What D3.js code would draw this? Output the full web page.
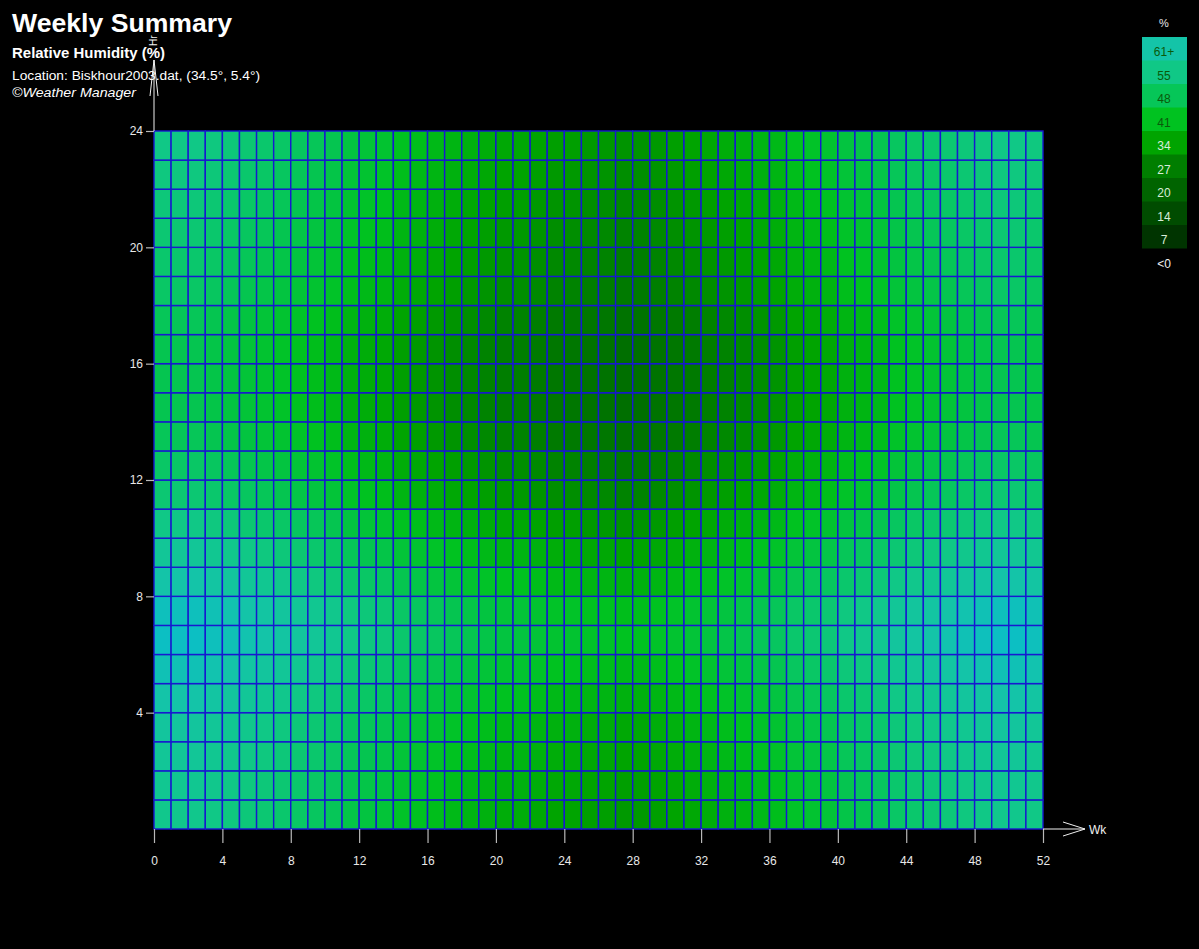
<!DOCTYPE html>
<html>
<head>
<meta charset="utf-8">
<script src="https://cdn.jsdelivr.net/npm/d3@7"></script>
<style>
  body { margin: 0; background: #000; }
  svg { display: block; }
  text { font-family: "Liberation Sans", Arial, sans-serif; }
</style>
</head>
<body>
<div class="chart"></div>
<script>
// weekly relative humidity (%), one row per hour (row 0 = 00h), 52 weeks each
var hourRows = [
  [56,56,56,55,54,53,52,51,50,49,48,46,45,44,42,41,40,39,38,37,36,36,35,34,34,33,33,32,32,33,34,35,36,37,38,39,40,42,43,44,46,47,48,50,51,52,53,54,55,56,56,55],
  [57,57,57,56,55,54,53,52,51,50,49,47,46,45,43,42,41,40,39,38,37,37,36,35,35,34,34,33,33,34,35,36,37,38,39,40,41,43,44,45,47,48,49,51,52,53,54,55,56,57,57,56],
  [58,58,58,57,56,55,54,53,52,51,50,48,47,46,44,43,42,41,40,39,38,38,37,36,36,35,35,34,34,35,36,37,38,39,40,41,42,44,45,46,48,49,50,52,53,54,55,56,57,58,58,57],
  [59,59,59,58,57,56,55,54,53,52,51,49,48,47,45,44,43,42,41,40,39,39,38,37,37,36,36,35,35,36,37,38,39,40,41,42,43,45,46,47,49,50,51,53,54,55,56,57,58,59,59,58],
  [61,61,61,60,59,58,57,56,55,54,53,51,50,49,47,46,45,44,43,42,41,41,40,39,39,38,38,37,37,38,39,40,41,42,43,44,45,47,48,49,51,52,53,55,56,57,58,59,60,61,61,60],
  [63,63,63,62,61,60,59,58,57,56,55,53,52,51,49,48,47,46,45,44,43,43,42,41,41,40,40,39,39,40,41,42,43,44,45,46,47,49,50,51,53,54,55,57,58,59,60,61,62,63,63,62],
  [65,65,65,64,63,62,61,60,59,58,57,55,54,53,51,50,49,48,47,46,45,45,44,43,43,42,42,41,41,42,43,44,45,46,47,48,49,51,52,53,55,56,57,59,60,61,62,63,64,65,65,64],
  [64,64,64,63,62,61,60,59,58,57,56,54,53,52,50,49,48,47,46,45,44,44,43,42,42,41,41,40,40,41,42,43,44,45,46,47,48,50,51,52,54,55,56,58,59,60,61,62,63,64,64,63],
  [61,61,61,60,59,58,57,56,55,54,53,51,50,49,47,46,45,44,43,42,41,41,40,39,39,38,38,37,37,38,39,40,41,42,43,44,45,47,48,49,51,52,53,55,56,57,58,59,60,61,61,60],
  [58,58,58,57,56,55,54,53,52,51,50,48,47,46,44,43,42,41,40,39,38,38,37,36,36,35,35,34,34,35,36,37,38,39,40,41,42,44,45,46,48,49,50,52,53,54,55,56,57,58,58,57],
  [55,55,55,54,53,52,51,50,49,48,47,45,44,43,41,40,39,38,37,36,35,35,34,33,33,32,32,31,31,32,33,34,35,36,37,38,39,41,42,43,45,46,47,49,50,51,52,53,54,55,55,54],
  [52,52,52,51,50,49,48,47,46,45,44,42,41,40,38,37,36,35,34,33,32,32,31,30,30,29,29,28,28,29,30,31,32,33,34,35,36,38,39,40,42,43,44,46,47,48,49,50,51,52,52,51],
  [50,50,50,49,48,47,46,45,44,43,42,40,39,38,36,35,34,33,32,31,30,30,29,28,28,27,27,26,26,27,28,29,30,31,32,33,34,36,37,38,40,41,42,44,45,46,47,48,49,50,50,49],
  [48,48,48,47,46,45,44,43,42,41,40,38,37,36,34,33,32,31,30,29,28,28,27,26,26,25,25,24,24,25,26,27,28,29,30,31,32,34,35,36,38,39,40,42,43,44,45,46,47,48,48,47],
  [47,47,47,46,45,44,43,42,41,40,39,37,36,35,33,32,31,30,29,28,27,27,26,25,25,24,24,23,23,24,25,26,27,28,29,30,31,33,34,35,37,38,39,41,42,43,44,45,46,47,47,46],
  [47,47,47,46,45,44,43,42,41,40,39,37,36,35,33,32,31,30,29,28,27,27,26,25,25,24,24,23,23,24,25,26,27,28,29,30,31,33,34,35,37,38,39,41,42,43,44,45,46,47,47,46],
  [47,47,47,46,45,44,43,42,41,40,39,37,36,35,33,32,31,30,29,28,27,27,26,25,25,24,24,23,23,24,25,26,27,28,29,30,31,33,34,35,37,38,39,41,42,43,44,45,46,47,47,46],
  [48,48,48,47,46,45,44,43,42,41,40,38,37,36,34,33,32,31,30,29,28,28,27,26,26,25,25,24,24,25,26,27,28,29,30,31,32,34,35,36,38,39,40,42,43,44,45,46,47,48,48,47],
  [50,50,50,49,48,47,46,45,44,43,42,40,39,38,36,35,34,33,32,31,30,30,29,28,28,27,27,26,26,27,28,29,30,31,32,33,34,36,37,38,40,41,42,44,45,46,47,48,49,50,50,49],
  [51,51,51,50,49,48,47,46,45,44,43,41,40,39,37,36,35,34,33,32,31,31,30,29,29,28,28,27,27,28,29,30,31,32,33,34,35,37,38,39,41,42,43,45,46,47,48,49,50,51,51,50],
  [52,52,52,51,50,49,48,47,46,45,44,42,41,40,38,37,36,35,34,33,32,32,31,30,30,29,29,28,28,29,30,31,32,33,34,35,36,38,39,40,42,43,44,46,47,48,49,50,51,52,52,51],
  [53,53,53,52,51,50,49,48,47,46,45,43,42,41,39,38,37,36,35,34,33,33,32,31,31,30,30,29,29,30,31,32,33,34,35,36,37,39,40,41,43,44,45,47,48,49,50,51,52,53,53,52],
  [54,54,54,53,52,51,50,49,48,47,46,44,43,42,40,39,38,37,36,35,34,34,33,32,32,31,31,30,30,31,32,33,34,35,36,37,38,40,41,42,44,45,46,48,49,50,51,52,53,54,54,53],
  [55,55,55,54,53,52,51,50,49,48,47,45,44,43,41,40,39,38,37,36,35,35,34,33,33,32,32,31,31,32,33,34,35,36,37,38,39,41,42,43,45,46,47,49,50,51,52,53,54,55,55,54]
];
var weekTicks = [0,4,8,12,16,20,24,28,32,36,40,44,48,52];
var hourTicks = [4,8,12,16,20,24];
var legendLabels = ['61+','55','48','41','34','27','20','14','7','<0'];
var legendValues = [61,55,48,41,34,27,20,14,7,-1];

var W = 1199, H = 949;
var svg = d3.select('.chart').append('svg').attr('width', W).attr('height', H);
svg.append('rect').attr('width', W).attr('height', H).attr('fill', '#000');

var x = d3.scaleLinear().domain([0, 52]).range([154, 1043]);
var y = d3.scaleLinear().domain([0, 24]).range([829, 131]);

var color = d3.scaleLinear()
  .domain([-1, 0, 7, 14, 20, 27, 34, 41, 48, 55, 61, 67])
  .range(['#000000','#002000','#003400','#004c00','#006400','#007e00','#00a400','#00c220','#06c658','#10c886','#14c4a8','#08bcd0'])
  .clamp(true);

// flatten rows into cells
var cells = [];
hourRows.forEach(function(row, h) {
  row.forEach(function(v, w) { cells.push({w: w, h: h, v: v}); });
});

svg.append('g').selectAll('rect')
  .data(cells)
  .enter().append('rect')
    .attr('x', function(d){ return x(d.w); })
    .attr('y', function(d){ return y(d.h + 1); })
    .attr('width', function(d){ return x(d.w + 1) - x(d.w); })
    .attr('height', function(d){ return y(d.h) - y(d.h + 1); })
    .attr('fill', function(d){ return color(d.v); })
    .attr('stroke', '#1818d0')
    .attr('stroke-width', 1.4);

// axes
var xAxis = svg.append('g').attr('transform', 'translate(0,829)')
  .call(d3.axisBottom(x).tickValues(weekTicks).tickSize(14).tickPadding(13).tickFormat(d3.format('d')));
var yAxis = svg.append('g').attr('transform', 'translate(154,0)')
  .call(d3.axisLeft(y).tickValues(hourTicks).tickSize(8).tickPadding(3).tickFormat(d3.format('d')));

[xAxis, yAxis].forEach(function(a) {
  a.select('.domain').remove();
  a.selectAll('line').attr('stroke', '#b8b8b8').attr('stroke-width', 1.2);
  a.selectAll('text').attr('fill', '#e8e8e8').style('font-size', '12px')
    .style('font-family', '"Liberation Sans", Arial, sans-serif');
});

// axis arrows
var white = '#f0f0f0';
svg.append('line').attr('x1', 1043).attr('y1', 829).attr('x2', 1085).attr('y2', 829).attr('stroke', white);
svg.append('polyline').attr('points', '1063,822 1085,829 1063,836').attr('fill', 'none').attr('stroke', white);
svg.append('text').attr('x', 1089).attr('y', 834).attr('fill', white).style('font-size', '12px').text('Wk');

svg.append('line').attr('x1', 154).attr('y1', 131).attr('x2', 154).attr('y2', 60).attr('stroke', white);
svg.append('polyline').attr('points', '150,96 154,60 158,96').attr('fill', 'none').attr('stroke', white);
svg.append('text').attr('transform', 'translate(157,46) rotate(-90)').attr('fill', white)
  .style('font-size', '10px').text('Hr');

// titles
svg.append('text').attr('x', 12).attr('y', 32).attr('fill', '#fff')
  .attr('textLength', 220).attr('lengthAdjust', 'spacingAndGlyphs')
  .style('font-size', '25px').style('font-weight', 'bold').text('Weekly Summary');
svg.append('text').attr('x', 12).attr('y', 58).attr('fill', '#fff')
  .attr('textLength', 153).attr('lengthAdjust', 'spacingAndGlyphs')
  .style('font-size', '15px').style('font-weight', 'bold').text('Relative Humidity (%)');
svg.append('text').attr('x', 12).attr('y', 80).attr('fill', '#fff')
  .attr('textLength', 248).attr('lengthAdjust', 'spacingAndGlyphs')
  .style('font-size', '12px').text('Location: Biskhour2003.dat,  (34.5°, 5.4°)');
svg.append('text').attr('x', 12).attr('y', 97).attr('fill', '#fff')
  .attr('textLength', 124).attr('lengthAdjust', 'spacingAndGlyphs')
  .style('font-size', '12px').style('font-style', 'italic').text('©Weather Manager');

// legend
var lg = svg.append('g');
var cellH = 23.5;
lg.append('text').attr('x', 1164).attr('y', 27).attr('text-anchor', 'middle')
  .attr('fill', '#e8e8e8').style('font-size', '11px').text('%');
lg.selectAll('rect')
  .data(legendValues)
  .enter().append('rect')
    .attr('x', 1142)
    .attr('y', function(d, i){ return 37 + i * cellH; })
    .attr('width', 45)
    .attr('height', cellH + 0.5)
    .attr('fill', function(d){ return color(d); });
lg.selectAll('text.lab')
  .data(legendLabels)
  .enter().append('text')
    .attr('class', 'lab')
    .attr('x', 1164)
    .attr('y', function(d, i){ return 37 + i * cellH + 19; })
    .attr('text-anchor', 'middle')
    .attr('fill', function(d, i){ return i < 4 ? '#0a5a0a' : (i < 9 ? '#d8ecd8' : '#f0f0f0'); })
    .style('font-size', '12px')
    .text(function(d){ return d; });
</script>
</body>
</html>
